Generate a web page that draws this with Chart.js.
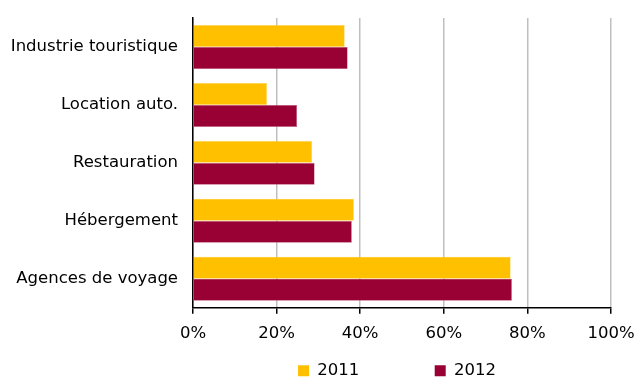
<!DOCTYPE html>
<html>
<head>
<meta charset="utf-8">
<script src="https://cdn.jsdelivr.net/npm/chart.js@4/dist/chart.umd.min.js"></script>
<style>
  html, body { margin: 0; padding: 0; background: #fff; }
  #wrap { width: 636px; height: 378px; }
</style>
</head>
<body>
<div id="wrap"><canvas id="chart"></canvas></div>
<script>
// catégories et valeurs (%)
var categories = ['Industrie touristique', 'Location auto.', 'Restauration', 'Hébergement', 'Agences de voyage'];
var values2011 = [36.3, 17.7, 28.5, 38.5, 76.0];
var values2012 = [37.0, 24.9, 29.1, 38.0, 76.3];
var xTicks = [0, 20, 40, 60, 80, 100];

var fontName = 'DejaVu Sans';
var fontSize = 16.5;

// décale la légende pour la centrer sous la zone du graphique
var moveLegend = {
    id: 'moveLegend',
    afterLayout: function (chart) {
        var lg = chart.legend;
        lg.left += 79; lg.right += 79;
        lg.top += 7; lg.bottom += 7;
    }
};

var ctx = document.getElementById('chart').getContext('2d');
var chart = new Chart(ctx, {
    type: 'bar',
    data: {
        labels: categories,
        datasets: [{
            label: '2011',
            data: values2011,
            backgroundColor: '#FFC000',
            borderColor: '#FFD966',
            borderWidth: 0.6
        }, {
            label: '2012',
            data: values2012,
            backgroundColor: '#990033',
            borderColor: '#C06080',
            borderWidth: 0.6
        }]
    },
    plugins: [moveLegend],
    options: {
        indexAxis: 'y',
        responsive: true,
        maintainAspectRatio: false,
        animation: false,
        layout: { padding: { top: 18, right: 0, left: 0, bottom: -4 } },
        datasets: {
            bar: { categoryPercentage: 0.76, barPercentage: 1.0 }
        },
        scales: {
            x: {
                min: 0,
                max: 100,
                afterBuildTicks: function (axis) {
                    axis.ticks = xTicks.map(function (v) { return { value: v }; });
                },
                afterFit: function (scale) { scale.paddingLeft = 0; scale.paddingRight = 25; },
                ticks: {
                    color: '#000',
                    padding: 10,
                    font: { family: fontName, size: fontSize },
                    callback: function (v) { return v + '%'; }
                },
                grid: {
                    color: '#BFBFBF',
                    lineWidth: 1.5,
                    tickColor: '#000',
                    tickLength: 6,
                    drawTicks: true
                },
                border: { display: true, color: '#000', width: 1.5 }
            },
            y: {
                afterFit: function (scale) {
                    scale.width = 193;
                    scale.paddingTop = 0;
                    scale.paddingBottom = 0;
                },
                ticks: {
                    color: '#000',
                    padding: 15,
                    font: { family: fontName, size: fontSize }
                },
                grid: { display: false, drawTicks: false },
                border: { display: true, color: '#000', width: 1.5 }
            }
        },
        plugins: {
            legend: {
                position: 'bottom',
                labels: {
                    color: '#000',
                    boxWidth: 11,
                    boxHeight: 11,
                    padding: 2,
                    font: { family: fontName, size: fontSize },
                    generateLabels: function (c) {
                        var items = Chart.defaults.plugins.legend.labels.generateLabels(c);
                        items.forEach(function (it) { it.lineWidth = 0; });
                        items[0].text = items[0].text + '              ';
                        return items;
                    }
                }
            },
            tooltip: { enabled: false }
        }
    }
});
</script>
</body>
</html>
